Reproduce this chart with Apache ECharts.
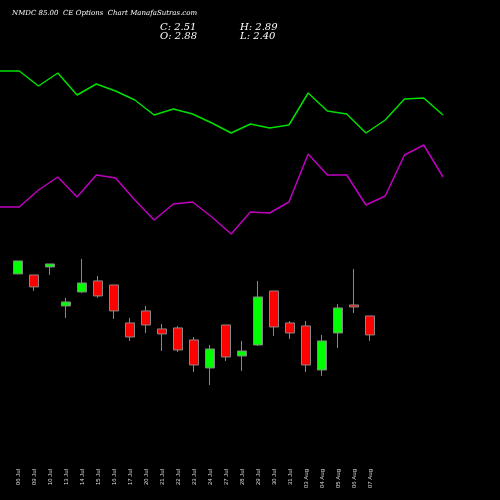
<!DOCTYPE html><html><head><meta charset="utf-8"><script src="https://cdn.jsdelivr.net/npm/echarts@6/dist/echarts.min.js"></script></head><body style="margin:0;background:#000"><div id="c" style="width:500px;height:500px"></div><script>
const categories=["06 Jul","09 Jul","10 Jul","13 Jul","14 Jul","15 Jul","16 Jul","17 Jul","20 Jul","21 Jul","22 Jul","23 Jul","24 Jul","27 Jul","28 Jul","29 Jul","30 Jul","31 Jul","03 Aug","04 Aug","05 Aug","06 Aug","07 Aug"];
// pixel-read levels converted to price
const pOpen=[274,275,267,306,292,281,285,323,311,329,328,340,368,325,356,345,291,323,326,370,333,305,316];
const pClose=[261,287,264,302,283,296,311,337,325,334,350,365,349,357,351,297,327,333,365,341,308,307,335];
const pLow=[274,291,275,318,293,298,319,341,333,351,352,372,385,361,371,346,336,339,372,376,348,313,341];
const pHigh=[261,275,264,298,259,276,285,318,306,324,326,337,345,325,341,281,291,321,321,335,304,269,316];
const greenLine=[71,71,86,73,95,84,91,100,115,109,114,123,133,124,128,125,93,111,114,133,120,99,98,115];
const magentaLine=[207,207,190,177,197,175,178,200,220,204,202,217,234,212,213,202,154,175,175,205,196,155,145,177];
const toP=y=>+(2.88+(316-y)*0.0195).toFixed(3);
const ohlc=categories.map((c,i)=>[toP(pOpen[i]),toP(pClose[i]),toP(pLow[i]),toP(pHigh[i])]);
const lineIdx=greenLine.map((_,i)=>i);
const ch=echarts.init(document.getElementById('c'));
ch.setOption({backgroundColor:'#000',animation:false,
graphic:[
{type:'text',left:12,top:10,style:{text:'NMDC 85.00  CE Options  Chart ManafaSutras.com',fill:'#fff',font:'italic 7px "DejaVu Serif"'}},
{type:'text',left:160,top:22,style:{text:'C: 2.51',fill:'#fff',font:'italic 10px "DejaVu Serif"'}},
{type:'text',left:160,top:31,style:{text:'O: 2.88',fill:'#fff',font:'italic 10px "DejaVu Serif"'}},
{type:'text',left:240,top:22,style:{text:'H: 2.89',fill:'#fff',font:'italic 10px "DejaVu Serif"'}},
{type:'text',left:240,top:31,style:{text:'L: 2.40',fill:'#fff',font:'italic 10px "DejaVu Serif"'}}],
grid:[{left:10,right:122,top:0,bottom:35},{left:0,right:57,top:0,bottom:0}],
xAxis:[{type:'category',data:categories,gridIndex:0,axisLine:{show:false},axisTick:{show:false},axisLabel:{rotate:90,color:'#ddd',fontSize:6,interval:0,margin:4}},
{type:'category',data:lineIdx,gridIndex:1,boundaryGap:false,show:false}],
yAxis:[{gridIndex:0,min:-0.026,max:9.04,show:false,splitLine:{show:false}},
{gridIndex:1,min:0,max:500,inverse:true,show:false,splitLine:{show:false}}],
series:[
{type:'candlestick',xAxisIndex:0,yAxisIndex:0,data:ohlc,barWidth:9,itemStyle:{color:'#00ff00',color0:'#ff0000',borderColor:'#888',borderColor0:'#888',borderWidth:1}},
{type:'line',xAxisIndex:1,yAxisIndex:1,data:greenLine,symbol:'none',lineStyle:{color:'#00e000',width:1.5}},
{type:'line',xAxisIndex:1,yAxisIndex:1,data:magentaLine,symbol:'none',lineStyle:{color:'#c000c0',width:1.5}}]});
</script></body></html>
